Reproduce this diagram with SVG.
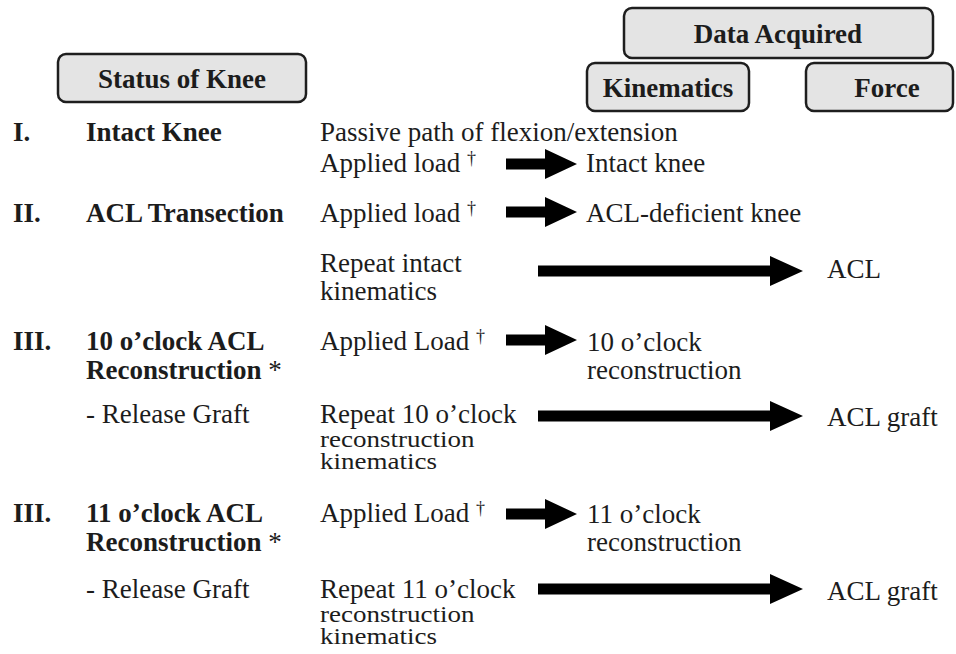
<svg xmlns="http://www.w3.org/2000/svg" width="956" height="654" viewBox="0 0 956 654">
  <style>
    text { font-family: "Liberation Serif", "Times New Roman", serif; font-size: 27px; fill: #1c1c1c; }
    .b { font-weight: bold; }
    .c { text-anchor: middle; }
    .sup { font-size: 18px; }
    .box { fill: #e4e4e4; stroke: #1e1e1e; stroke-width: 2.5; }
    .arrow { fill: #000; }
  </style>
  <defs>
    <!-- short block arrow, tip at local x=71 -->
    <path id="arrowShort" d="M0,-5.5 H39 V-15 L71,0 L39,15 V5.5 H0 Z"/>
    <!-- long block arrow, tip at local x=265 -->
    <path id="arrowLong" d="M0,-5.5 H232 V-15 L265,0 L232,15 V5.5 H0 Z"/>
  </defs>

  <rect width="956" height="654" fill="#fff"/>

  <!-- column headers -->
  <g id="hdr-status">
    <rect class="box" x="58" y="54" width="248" height="48" rx="8"/>
    <text class="b c" x="182" y="88">Status of Knee</text>
  </g>
  <g id="hdr-data">
    <rect class="box" x="624" y="8" width="309" height="50" rx="8"/>
    <text class="b c" x="778" y="43">Data Acquired</text>
  </g>
  <g id="hdr-kinematics">
    <rect class="box" x="587" y="63" width="162" height="48" rx="8"/>
    <text class="b c" x="668" y="97">Kinematics</text>
  </g>
  <g id="hdr-force">
    <rect class="box" x="806" y="63" width="147" height="48" rx="8"/>
    <text class="b c" x="887" y="97">Force</text>
  </g>

  <!-- I. intact knee -->
  <g id="row-1">
    <text class="b" x="13" y="141">I.</text>
    <text class="b" x="86" y="141">Intact Knee</text>
    <text x="320" y="141">Passive path of flexion/extension</text>
    <text x="320" y="172">Applied load <tspan class="sup" dy="-8">†</tspan></text>
    <text x="586" y="172">Intact knee</text>
  </g>

  <!-- II. ACL transection -->
  <g id="row-2">
    <text class="b" x="13" y="222">II.</text>
    <text class="b" x="86" y="222">ACL Transection</text>
    <text x="320" y="222">Applied load <tspan class="sup" dy="-8">†</tspan></text>
    <text x="586" y="222">ACL-deficient knee</text>
    <text x="320" y="272">Repeat intact</text>
    <text x="320" y="300">kinematics</text>
    <text x="827" y="278">ACL</text>
  </g>

  <!-- III. 10 o'clock reconstruction -->
  <g id="row-3">
    <text class="b" x="13" y="350">III.</text>
    <text class="b" x="86" y="350">10 o’clock ACL</text>
    <text class="b" x="86" y="379">Reconstruction <tspan font-weight="normal">*</tspan></text>
    <text x="320" y="350">Applied Load <tspan class="sup" dy="-8">†</tspan></text>
    <text x="587" y="351">10 o’clock</text>
    <text x="587" y="379">reconstruction</text>
    <text x="86" y="423">- Release Graft</text>
    <text x="320" y="423">Repeat 10 o’clock</text>
    <!-- the two trailing lines are set tight, slightly squat -->
    <text transform="translate(320,447) scale(1,0.86)">reconstruction</text>
    <text transform="translate(320,469) scale(1,0.86)">kinematics</text>
    <text x="827" y="426">ACL graft</text>
  </g>

  <!-- III. 11 o'clock reconstruction -->
  <g id="row-4">
    <text class="b" x="13" y="522">III.</text>
    <text class="b" x="86" y="522">11 o’clock ACL</text>
    <text class="b" x="86" y="551">Reconstruction <tspan font-weight="normal">*</tspan></text>
    <text x="320" y="522">Applied Load <tspan class="sup" dy="-8">†</tspan></text>
    <text x="587" y="523">11 o’clock</text>
    <text x="587" y="551">reconstruction</text>
    <text x="86" y="598">- Release Graft</text>
    <text x="320" y="598">Repeat 11 o’clock</text>
    <text transform="translate(320,622) scale(1,0.86)">reconstruction</text>
    <text transform="translate(320,644) scale(1,0.86)">kinematics</text>
    <text x="827" y="600">ACL graft</text>
  </g>

  <!-- arrows -->
  <g id="connectors" class="arrow">
    <use href="#arrowShort" x="506" y="164"/>
    <use href="#arrowShort" x="506" y="212"/>
    <use href="#arrowLong" x="538" y="271"/>
    <use href="#arrowShort" x="506" y="340"/>
    <use href="#arrowLong" x="538" y="416"/>
    <use href="#arrowShort" x="506" y="514"/>
    <use href="#arrowLong" x="538" y="589"/>
  </g>
</svg>
